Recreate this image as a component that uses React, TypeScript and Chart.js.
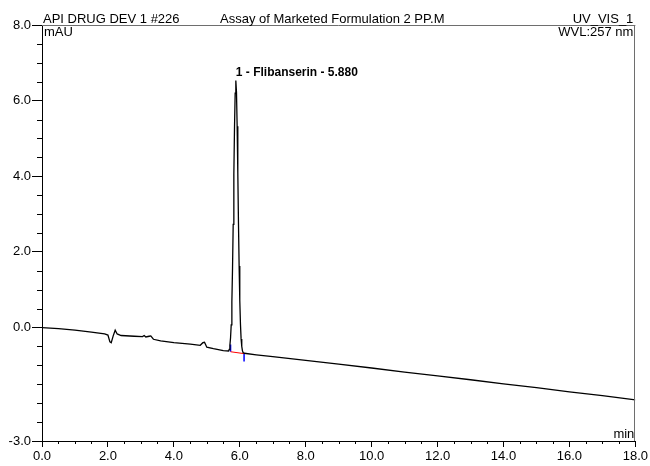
import React, { useEffect, useRef } from "react";
import { Chart, registerables } from "chart.js";

Chart.register(...registerables);

// Chromatogram trace (time in min, signal in mAU)
const times = [
  0, 0.5, 1.0, 1.5, 1.9, 2.0, 2.06, 2.1, 2.16, 2.22, 2.28, 2.4, 2.8, 3.05, 3.1, 3.15, 3.25, 3.3, 3.38,
  3.6, 4.0, 4.5, 4.8, 4.88, 4.93, 5.0, 5.2, 5.5, 5.66, 5.68, 5.7, 5.72, 5.74, 5.76, 5.78, 5.8, 5.82,
  5.84, 5.86, 5.88, 5.9, 5.92, 5.94, 5.96, 5.98, 6.0, 6.02, 6.04, 6.06, 6.08, 6.1, 6.14, 6.5, 7, 8, 9,
  10, 11, 12, 13, 14, 15, 16, 17, 18,
];
const signal = [
  0.0, -0.03, -0.07, -0.12, -0.17, -0.2, -0.38, -0.4, -0.22, -0.07, -0.17, -0.21, -0.23, -0.24, -0.21,
  -0.25, -0.23, -0.22, -0.31, -0.35, -0.4, -0.44, -0.47, -0.4, -0.39, -0.52, -0.56, -0.61, -0.62, -0.58,
  -0.47, -0.27, 0.07, 0.67, 1.57, 2.73, 4.05, 5.29, 6.2, 6.53, 6.22, 5.32, 4.1, 2.78, 1.63, 0.72, 0.1,
  -0.3, -0.5, -0.61, -0.66, -0.68, -0.72, -0.77, -0.87, -0.97, -1.07, -1.18, -1.28, -1.38, -1.49, -1.59,
  -1.7, -1.8, -1.91,
];

// Peak integration marks
const peakName = "1 - Flibanserin - 5.880";
const peakApex = { x: 5.88, y: 6.53 };
const baselineSeg = [
  { x: 5.72, y: -0.64 },
  { x: 6.13, y: -0.69 },
];
const startDelim = [
  { x: 5.72, y: -0.45 },
  { x: 5.72, y: -0.64 },
];
const endDelim = [
  { x: 6.13, y: -0.69 },
  { x: 6.13, y: -0.9 },
];

// Axis ticks
const yMajorTicks = [-3, 0, 2, 4, 6, 8];
const xMajorTicks = [0, 2, 4, 6, 8, 10, 12, 14, 16, 18];
const xMin = 0;
const xMax = 18;
const yMin = -3;
const yMax = 8;
const minorStep = 0.5;

// Header texts
const headerLeft = "API DRUG DEV 1 #226";
const headerMid = "Assay of Marketed Formulation 2 PP.M";
const headerRight = "UV_VIS_1";
const yUnit = "mAU";
const wavelength = "WVL:257 nm";
const xUnit = "min";

const FONT = "'Liberation Sans', Arial, sans-serif";

export default function App() {
  const ref = useRef<HTMLCanvasElement | null>(null);

  useEffect(() => {
    if (!ref.current) return;
    const traceData = times.map((t, i) => ({ x: t, y: signal[i] }));

    const decor = {
      id: "decor",
      afterDraw(chart: any) {
        const ctx = chart.ctx;
        const { left, right, top, bottom } = chart.chartArea;
        const xs = chart.scales.x;
        const ys = chart.scales.y;
        ctx.save();
        // frame top/right
        ctx.strokeStyle = "#6e6e6e";
        ctx.lineWidth = 1;
        ctx.beginPath();
        ctx.moveTo(left, Math.round(top) + 0.5);
        ctx.lineTo(right, Math.round(top) + 0.5);
        ctx.moveTo(Math.round(right) - 0.5, top);
        ctx.lineTo(Math.round(right) - 0.5, bottom);
        ctx.stroke();
        // minor ticks
        ctx.strokeStyle = "#000";
        ctx.beginPath();
        for (let v = yMin; v <= yMax + 1e-9; v += minorStep) {
          if (yMajorTicks.some((m) => Math.abs(m - v) < 1e-6)) continue;
          const py = Math.round(ys.getPixelForValue(v)) + 0.5;
          ctx.moveTo(left - 5, py);
          ctx.lineTo(left, py);
        }
        for (let v = xMin; v <= xMax + 1e-9; v += minorStep) {
          if (xMajorTicks.some((m) => Math.abs(m - v) < 1e-6)) continue;
          const px = Math.round(xs.getPixelForValue(v)) + 0.5;
          ctx.moveTo(px, bottom);
          ctx.lineTo(px, bottom + 3);
        }
        ctx.stroke();
        // header texts
        ctx.fillStyle = "#000";
        ctx.font = `13px ${FONT}`;
        ctx.textBaseline = "alphabetic";
        ctx.textAlign = "left";
        ctx.fillText(headerLeft, 43, 23);
        ctx.fillText(headerMid, 220, 23);
        ctx.fillText(yUnit, left + 2, 36);
        ctx.textAlign = "right";
        ctx.fillText(headerRight, right - 2, 23);
        ctx.fillText(wavelength, right - 2, 36);
        ctx.fillText(xUnit, right - 1, bottom - 3);
        // peak label
        ctx.textAlign = "left";
        ctx.font = `bold 12px ${FONT}`;
        const px = xs.getPixelForValue(peakApex.x);
        const py = ys.getPixelForValue(peakApex.y);
        ctx.fillText(peakName, px, py - 5);
        ctx.restore();
      },
    };

    const chart = new Chart(ref.current, {
      type: "line",
      data: {
        datasets: [
          {
            data: traceData,
            borderColor: "#000",
            borderWidth: 1.3,
            pointRadius: 0,
            tension: 0,
            fill: false,
          },
          {
            data: baselineSeg,
            borderColor: "#ff0000",
            borderWidth: 1,
            pointRadius: 0,
            fill: false,
          },
          {
            data: startDelim,
            borderColor: "#0000ff",
            borderWidth: 1.5,
            pointRadius: 0,
            fill: false,
          },
          {
            data: endDelim,
            borderColor: "#0000ff",
            borderWidth: 1.5,
            pointRadius: 0,
            fill: false,
          },
        ],
      },
      options: {
        animation: false,
        responsive: false,
        devicePixelRatio: 1,
        parsing: false as any,
        layout: { padding: { top: 25, right: 14, left: 0, bottom: 0 } },
        plugins: {
          legend: { display: false },
          tooltip: { enabled: false },
          title: { display: false },
        },
        scales: {
          x: {
            type: "linear",
            min: xMin,
            max: xMax,
            afterBuildTicks: (s: any) => {
              s.ticks = xMajorTicks.map((v) => ({ value: v }));
            },
            afterFit: (s: any) => {
              s.height = 25;
            },
            ticks: {
              autoSkip: false,
              maxRotation: 0,
              color: "#000",
              padding: 2,
              font: { family: FONT, size: 13 },
              callback: (v: any) => Number(v).toFixed(1),
            },
            grid: {
              drawOnChartArea: false,
              drawTicks: true,
              tickLength: 6,
              tickColor: "#000",
            },
            border: { color: "#000", width: 1 },
          },
          y: {
            type: "linear",
            min: yMin,
            max: yMax,
            afterBuildTicks: (s: any) => {
              s.ticks = yMajorTicks.map((v) => ({ value: v }));
            },
            afterFit: (s: any) => {
              s.width = 42;
            },
            ticks: {
              autoSkip: false,
              color: "#000",
              padding: 1,
              font: { family: FONT, size: 13 },
              callback: (v: any) => Number(v).toFixed(1),
            },
            grid: {
              drawOnChartArea: false,
              drawTicks: true,
              tickLength: 10,
              tickColor: "#000",
            },
            border: { color: "#000", width: 1 },
          },
        },
      },
      plugins: [decor],
    });
    return () => chart.destroy();
  }, []);

  return (
    <div style={{ position: "absolute", left: 0, top: 0, width: 650, height: 466, background: "#fff" }}>
      <canvas ref={ref} width={650} height={466} style={{ display: "block" }} />
    </div>
  );
}
